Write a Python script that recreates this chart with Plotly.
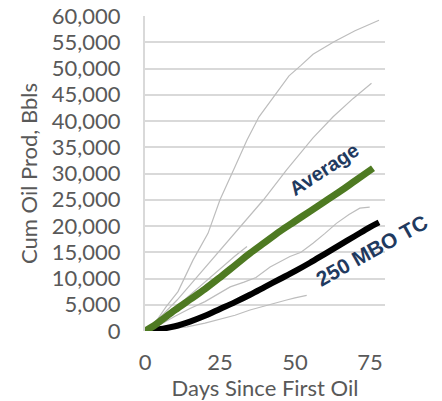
import plotly.graph_objects as go

# Individual well cumulative oil (thousand bbl) vs days since first oil
well_a_days = [0, 2, 4, 7, 11, 16, 21, 25, 30, 34, 38, 43, 48, 52, 56, 63, 70, 78]
well_a_cum = [0, 0.6, 2.1, 4.6, 7.5, 13.5, 18.6, 25.0, 31.3, 36.4, 40.8, 44.6, 48.6, 50.6, 52.7, 55.1, 57.2, 59.2]

well_b_days = [0, 5, 10.7, 17.3, 24, 31.7, 39.5, 47.2, 52, 56, 62.7, 69.4, 75.5]
well_b_cum = [0, 2.6, 5.9, 10.3, 14.8, 19.9, 25.0, 30.7, 34.0, 36.8, 40.8, 44.3, 47.2]

well_c_days = [0, 5, 10, 15, 20, 24, 28.4, 33, 37, 41.7, 48.3, 52, 56, 60, 63.8, 68, 71.6, 74.9]
well_c_cum = [0, 1.2, 2.8, 4.3, 5.6, 6.9, 8.4, 9.3, 10.2, 12.2, 14.2, 15.0, 16.7, 18.6, 20.5, 22.2, 23.4, 23.6]

well_d_days = [0, 5, 9, 14, 20, 26.2, 30, 35, 41, 47.2, 50, 53.9]
well_d_cum = [0, 0.3, 0.6, 0.8, 1.5, 2.4, 3.0, 4.0, 5.0, 5.9, 6.3, 6.8]

well_e_days = [0, 3, 6, 10, 15, 20, 25, 30, 34]
well_e_cum = [0, 1.0, 2.4, 4.4, 6.9, 9.4, 11.9, 14.3, 16.1]

avg_days = [0, 3, 6, 10, 15, 20, 25, 30, 35, 40, 45, 50, 55, 60, 65, 70, 76]
avg_cum = [0, 1.0, 2.3, 4.0, 6.0, 8.0, 10.2, 12.5, 14.8, 16.9, 19.0, 20.9, 22.8, 24.7, 26.6, 28.6, 31.0]

tc_days = [0, 3, 6, 10, 15, 20, 25, 30, 35, 40, 45, 50, 55, 60, 65, 70, 75, 78]
tc_cum = [0, 0.2, 0.45, 0.9, 1.8, 2.9, 4.2, 5.5, 6.9, 8.4, 9.9, 11.4, 13.0, 14.7, 16.4, 18.1, 19.8, 20.7]

y_ticks = list(range(0, 60001, 5000))
x_ticks = [0, 25, 50, 75]

GRAY_TEXT = "#595959"
fig = go.Figure()

for d, c in [(well_a_days, well_a_cum), (well_b_days, well_b_cum),
             (well_c_days, well_c_cum), (well_d_days, well_d_cum),
             (well_e_days, well_e_cum)]:
    fig.add_trace(go.Scatter(x=d, y=[v * 1000 for v in c], mode="lines",
                             line=dict(color="#bdbdbd", width=1.2),
                             showlegend=False, hoverinfo="skip"))

fig.add_trace(go.Scatter(x=tc_days, y=[v * 1000 for v in tc_cum], mode="lines",
                         line=dict(color="#000000", width=6, shape="spline"),
                         showlegend=False))
fig.add_trace(go.Scatter(x=avg_days, y=[v * 1000 for v in avg_cum], mode="lines",
                         line=dict(color="#4e7a22", width=7, shape="spline"),
                         showlegend=False))

fig.add_annotation(x=59.8, y=30800, text="<b>Average</b>", showarrow=False,
                   textangle=-33, font=dict(family="Liberation Sans, Arial", size=20, color="#1f3a5f"))
fig.add_annotation(x=75.5, y=15300, text="<b>250 MBO TC</b>", showarrow=False,
                   textangle=-29, font=dict(family="Liberation Sans, Arial", size=21, color="#1f3a5f"))

fig.update_layout(
    width=442, height=401,
    margin=dict(l=145, r=57, t=16, b=70, autoexpand=False),
    paper_bgcolor="white", plot_bgcolor="white",
    font=dict(family="Lato, Noto Sans, sans-serif", color=GRAY_TEXT, size=22),
)
fig.update_xaxes(
    range=[0, 80], tickvals=x_ticks, ticktext=[str(t) for t in x_ticks],
    showgrid=False, zeroline=False, showline=False, automargin=False,
    ticks="outside", ticklen=12, tickcolor="rgba(0,0,0,0)",
    tickfont=dict(size=22, color=GRAY_TEXT),
    title=dict(text="Days Since First Oil", font=dict(size=22, color=GRAY_TEXT), standoff=7),
)
fig.update_yaxes(
    range=[0, 60000], tickvals=y_ticks, ticktext=[f"{t:,}" for t in y_ticks],
    showgrid=True, gridcolor="#d9d9d9", gridwidth=2,
    zeroline=False, showline=True, linecolor="#d9d9d9", linewidth=2,
    automargin=False,
    ticks="outside", ticklen=18, tickcolor="rgba(0,0,0,0)",
    tickfont=dict(size=22, color=GRAY_TEXT),
    title=dict(text="Cum Oil Prod, Bbls", font=dict(size=22, color=GRAY_TEXT), standoff=8),
)

fig.write_html("out.html")
